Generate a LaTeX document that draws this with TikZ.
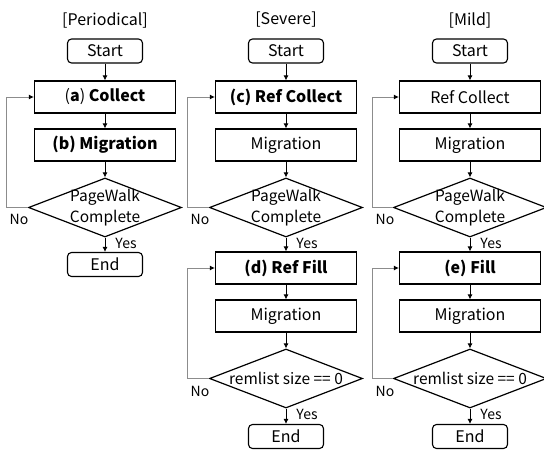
\documentclass[tikz,border=0pt]{standalone}
\usepackage{fontspec}
\setmainfont{Noto Sans CJK JP}
\usetikzlibrary{shapes.geometric,arrows.meta}

\tikzset{
  every node/.style={font=\fontsize{16}{19}\selectfont, inner sep=0pt},
  title/.style={font=\fontsize{16}{19}\selectfont},
  term/.style={draw, line width=1.1pt, rounded corners=4pt, minimum width=75pt, minimum height=24pt},
  proc/.style={draw, line width=1.2pt, minimum width=141pt, minimum height=32pt},
  cond/.style={draw, line width=1.2pt, diamond, minimum width=153pt, minimum height=59pt},
  condtext/.style={align=center, font=\fontsize{15.5}{21}\selectfont},
  flow/.style={-{Latex[length=5pt,width=5pt]}, line width=0.8pt},
  loop/.style={draw=black!45, line width=1pt, -{Latex[length=5pt,width=5pt,fill=black,color=black]}},
  small/.style={font=\fontsize{14}{16}\selectfont},
}

\begin{document}
\begin{tikzpicture}[x=1pt,y=-1pt]
\useasboundingbox (0,0) rectangle (544,450);

% ---------------- Periodical ----------------
\node[title] (t1) at (105,20) {[Periodical]};
\node[term] (s1) at (105,51) {Start};
\node[proc] (a1) at (105,97) {(\textbf{a}) \textbf{Collect}};
\node[proc] (b1) at (105,145) {\textbf{(b) Migration}};
\node[cond] (d1) at (105,207.5) {};
\node[condtext] (d1t) at (105,207.5) {PageWalk\\Complete};
\node[term] (e1) at (105,264.5) {End};
\draw[flow] (s1) -- (a1);
\draw[flow] (a1) -- (b1);
\draw[flow] (b1) -- (d1);
\draw[flow] (d1) -- (e1);
\coordinate (l1) at (6,0);
\draw[loop] (d1.west) -| (l1 |- a1) -- (a1.west);
\node[small] (n1) at (19,219) {No};
\node[small] (y1) at (126,243) {Yes};

% ---------------- Severe ----------------
\node[title] (t2) at (286,20) {[Severe]};
\node[term] (s2) at (286,51) {Start};
\node[proc] (a2) at (286,97) {\textbf{(c) Ref Collect}};
\node[proc] (b2) at (286,145) {Migration};
\node[cond] (d2) at (286,207.5) {};
\node[condtext] (d2t) at (286,207.5) {PageWalk\\Complete};
\node[proc] (f2) at (286,268) {\textbf{(d) Ref Fill}};
\node[proc] (m2) at (286,316) {Migration};
\node[cond] (r2) at (286,378.5) {};
\node[condtext] (r2t) at (286,378.5) {remlist size == 0};
\node[term] (e2) at (286,436.5) {End};
\draw[flow] (s2) -- (a2);
\draw[flow] (a2) -- (b2);
\draw[flow] (b2) -- (d2);
\draw[flow] (d2) -- (f2);
\draw[flow] (f2) -- (m2);
\draw[flow] (m2) -- (r2);
\draw[flow] (r2) -- (e2);
\coordinate (l2) at (187,0);
\draw[loop] (d2.west) -| (l2 |- a2) -- (a2.west);
\draw[loop] (r2.west) -| (l2 |- f2) -- (f2.west);
\node[small] (n2a) at (200,219) {No};
\node[small] (y2a) at (307,243) {Yes};
\node[small] (n2b) at (200,391) {No};
\node[small] (y2b) at (307,414) {Yes};

% ---------------- Mild ----------------
\node[title] (t3) at (470,20) {[Mild]};
\node[term] (s3) at (470,51) {Start};
\node[proc] (a3) at (470,97) {Ref Collect};
\node[proc] (b3) at (470,145) {Migration};
\node[cond] (d3) at (470,207.5) {};
\node[condtext] (d3t) at (470,207.5) {PageWalk\\Complete};
\node[proc] (f3) at (470,268) {\textbf{(e) Fill}};
\node[proc] (m3) at (470,316) {Migration};
\node[cond] (r3) at (470,378.5) {};
\node[condtext] (r3t) at (470,378.5) {remlist size == 0};
\node[term] (e3) at (470,436.5) {End};
\draw[flow] (s3) -- (a3);
\draw[flow] (a3) -- (b3);
\draw[flow] (b3) -- (d3);
\draw[flow] (d3) -- (f3);
\draw[flow] (f3) -- (m3);
\draw[flow] (m3) -- (r3);
\draw[flow] (r3) -- (e3);
\coordinate (l3) at (372,0);
\draw[loop] (d3.west) -| (l3 |- a3) -- (a3.west);
\draw[loop] (r3.west) -| (l3 |- f3) -- (f3.west);
\node[small] (n3a) at (385,219) {No};
\node[small] (y3a) at (491,243) {Yes};
\node[small] (n3b) at (385,391) {No};
\node[small] (y3b) at (491,414) {Yes};
\end{tikzpicture}
\end{document}
